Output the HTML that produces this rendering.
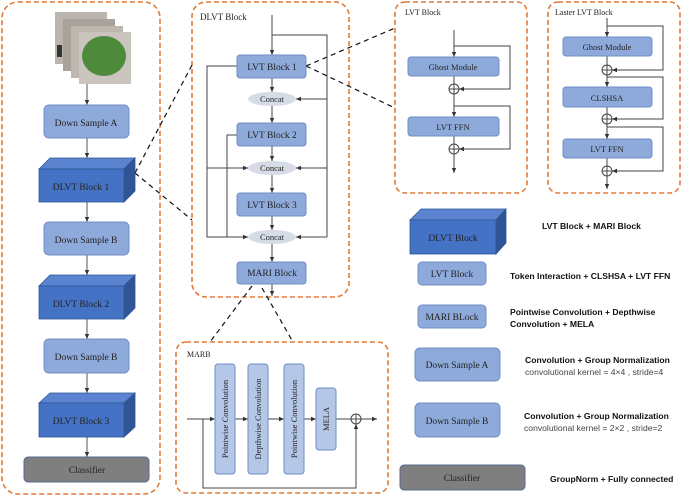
<!DOCTYPE html>
<html><head><meta charset="utf-8"><style>
html,body{margin:0;padding:0;background:#fff;}
svg{display:block;}
.s{font-family:"Liberation Serif",serif;font-size:9.5px;fill:#222;}
.b{font-family:"Liberation Sans",sans-serif;font-size:8.6px;font-weight:bold;fill:#111;}
.n{font-family:"Liberation Sans",sans-serif;font-size:8.6px;fill:#444;}
</style></head><body>
<svg width="685" height="498" viewBox="0 0 685 498" xmlns="http://www.w3.org/2000/svg">
<defs>
<marker id="a" markerWidth="6" markerHeight="6" refX="5" refY="3" orient="auto" markerUnits="userSpaceOnUse"><path d="M0,0.8 L5,3 L0,5.2z" fill="#333"/></marker>
</defs>
<g fill="none" stroke="#e07b39" stroke-width="1.6" stroke-dasharray="5,3">
<rect x="2" y="2" width="158" height="492" rx="16"/>
<rect x="192" y="2" width="157" height="295" rx="14"/>
<rect x="395" y="2" width="132" height="191" rx="10"/>
<rect x="548" y="2" width="132" height="191" rx="10"/>
<rect x="176" y="342" width="212" height="151" rx="10"/>
</g>
<g stroke="#111" stroke-width="1.2" stroke-dasharray="5,4" fill="none">
<path d="M135,173 L192,65 M135,173 L192,220"/>
<path d="M306,66 L395,28 M306,66 L395,108"/>
<path d="M252,286 L210,342 M262,288 L293,342"/>
</g>
<!-- images -->
<rect x="55" y="12" width="52" height="52" fill="#b9b4ae"/>
<rect x="63" y="19" width="52" height="52" fill="#a8a29b"/>
<rect x="71" y="26" width="52" height="52" fill="#bdb7b0"/>
<rect x="79" y="32" width="52" height="52" fill="#c9c4bd"/>
<ellipse cx="104" cy="56" rx="22" ry="20" fill="#4e8a3c"/>
<rect x="57" y="45" width="5" height="12" fill="#333"/>
<g stroke="#555" stroke-width="1" fill="none" marker-end="url(#a)">
<path d="M87,84 V105"/><path d="M87,138 V158"/><path d="M87,202 V222"/><path d="M87,255 V275"/><path d="M87,319 V339"/><path d="M87,373 V393"/><path d="M87,437 V457"/>
</g>
<g stroke="#6f8fc6" fill="#8eaadb">
<rect x="44" y="105" width="85" height="33" rx="5"/>
<rect x="44" y="222" width="85" height="33" rx="5"/>
<rect x="44" y="339" width="85" height="34" rx="5"/>
</g>
<text class="s" x="86" y="126" text-anchor="middle">Down Sample A</text>
<text class="s" x="86" y="243" text-anchor="middle">Down Sample B</text>
<text class="s" x="86" y="360" text-anchor="middle">Down Sample B</text>
<g stroke="#2f5597" stroke-width="0.8">
<g><polygon points="39,169 50,158 135,158 124,169" fill="#5b84d0"/><polygon points="124,169 135,158 135,191 124,202" fill="#2f5597"/><rect x="39" y="169" width="85" height="33" fill="#4472c4"/></g>
<g><polygon points="39,286 50,275 135,275 124,286" fill="#5b84d0"/><polygon points="124,286 135,275 135,308 124,319" fill="#2f5597"/><rect x="39" y="286" width="85" height="33" fill="#4472c4"/></g>
<g><polygon points="39,403 50,393 135,393 124,403" fill="#5b84d0"/><polygon points="124,403 135,393 135,427 124,437" fill="#2f5597"/><rect x="39" y="403" width="85" height="34" fill="#4472c4"/></g>
<g><polygon points="410,220 421,209 506,209 496,220" fill="#5b84d0"/><polygon points="496,220 506,209 506,243 496,254" fill="#2f5597"/><rect x="410" y="220" width="86" height="34" fill="#4472c4"/></g>
</g>
<text class="s" x="81" y="190" text-anchor="middle">DLVT Block 1</text>
<text class="s" x="81" y="307" text-anchor="middle">DLVT Block 2</text>
<text class="s" x="81" y="424" text-anchor="middle">DLVT Block 3</text>
<text class="s" x="453" y="241" text-anchor="middle">DLVT Block</text>
<rect x="24" y="457" width="125" height="25" rx="4" fill="#7f7f7f" stroke="#5a6a90"/>
<text class="s" x="87" y="473" text-anchor="middle">Classifier</text>

<!-- DLVT detail -->
<text class="s" x="200" y="20" style="font-size:9px">DLVT Block</text>
<g stroke="#444" stroke-width="1" fill="none">
<path d="M272,15 V55" marker-end="url(#a)"/>
<path d="M272,35 H327 V237"/>
<path d="M327,99 H296" marker-end="url(#a)"/>
<path d="M327,168 H296" marker-end="url(#a)"/>
<path d="M327,237 H296" marker-end="url(#a)"/>
<path d="M237,66 H207 V237 H248" marker-end="url(#a)"/>
<path d="M207,168 H248" marker-end="url(#a)"/>
<path d="M237,135 H227 V237"/>
<path d="M272,78 V92" marker-end="url(#a)"/>
<path d="M272,106 V123" marker-end="url(#a)"/>
<path d="M272,146 V161" marker-end="url(#a)"/>
<path d="M272,175 V193" marker-end="url(#a)"/>
<path d="M272,216 V230" marker-end="url(#a)"/>
<path d="M272,244 V262" marker-end="url(#a)"/>
<path d="M272,284 V296" marker-end="url(#a)"/>
</g>
<g stroke="#6f8fc6" fill="#8eaadb">
<rect x="237" y="55" width="69" height="23" rx="3"/>
<rect x="237" y="123" width="69" height="23" rx="3"/>
<rect x="237" y="193" width="69" height="23" rx="3"/>
<rect x="237" y="262" width="69" height="22" rx="3"/>
</g>
<g fill="#d6dce6"><ellipse cx="272" cy="99" rx="24" ry="7"/><ellipse cx="272" cy="168" rx="24" ry="7"/><ellipse cx="272" cy="237" rx="24" ry="7"/></g>
<text class="s" x="272" y="70" text-anchor="middle">LVT Block 1</text>
<text class="s" x="272" y="138" text-anchor="middle">LVT Block 2</text>
<text class="s" x="272" y="208" text-anchor="middle">LVT Block 3</text>
<text class="s" x="272" y="276" text-anchor="middle">MARI Block</text>
<g class="s" style="font-size:8.5px" text-anchor="middle"><text x="272" y="102">Concat</text><text x="272" y="171">Concat</text><text x="272" y="240">Concat</text></g>

<!-- LVT block -->
<text class="s" x="405" y="15" style="font-size:8px">LVT Block</text>
<g stroke="#444" stroke-width="1" fill="none">
<path d="M454,30 V57" marker-end="url(#a)"/>
<path d="M454,46 H510 V89 H459" marker-end="url(#a)"/>
<path d="M454,76 V84"/><path d="M454,94 V117" marker-end="url(#a)"/>
<path d="M454,106 H510 V149 H459" marker-end="url(#a)"/>
<path d="M454,136 V144"/><path d="M454,154 V173" marker-end="url(#a)"/>
<circle cx="454" cy="89" r="5"/><path d="M449,89 H459 M454,84 V94"/>
<circle cx="454" cy="149" r="5"/><path d="M449,149 H459 M454,144 V154"/>
</g>
<g stroke="#6f8fc6" fill="#8eaadb">
<rect x="408" y="57" width="91" height="19" rx="3"/>
<rect x="408" y="117" width="91" height="19" rx="3"/>
</g>
<text class="s" x="453" y="70" text-anchor="middle" style="font-size:8.5px">Ghost Module</text>
<text class="s" x="453" y="130" text-anchor="middle" style="font-size:8.5px">LVT FFN</text>

<!-- Laster LVT -->
<text class="s" x="555" y="15" style="font-size:8px">Laster LVT Block</text>
<g stroke="#444" stroke-width="1" fill="none">
<path d="M607,18 V37" marker-end="url(#a)"/>
<path d="M607,26 H663 V70 H612" marker-end="url(#a)"/>
<path d="M607,56 V65"/><path d="M607,75 V87" marker-end="url(#a)"/>
<path d="M607,77 H663 V119 H612" marker-end="url(#a)"/>
<path d="M607,107 V114"/><path d="M607,124 V139" marker-end="url(#a)"/>
<path d="M607,127 H663 V171 H612" marker-end="url(#a)"/>
<path d="M607,158 V166"/><path d="M607,176 V189" marker-end="url(#a)"/>
<circle cx="607" cy="70" r="5"/><path d="M602,70 H612 M607,65 V75"/>
<circle cx="607" cy="119" r="5"/><path d="M602,119 H612 M607,114 V124"/>
<circle cx="607" cy="171" r="5"/><path d="M602,171 H612 M607,166 V176"/>
</g>
<g stroke="#6f8fc6" fill="#8eaadb">
<rect x="563" y="37" width="89" height="19" rx="3"/>
<rect x="563" y="87" width="89" height="20" rx="3"/>
<rect x="563" y="139" width="89" height="19" rx="3"/>
</g>
<text class="s" x="607" y="50" text-anchor="middle" style="font-size:8.5px">Ghost Module</text>
<text class="s" x="607" y="101" text-anchor="middle" style="font-size:8.5px">CLSHSA</text>
<text class="s" x="607" y="152" text-anchor="middle" style="font-size:8.5px">LVT FFN</text>

<!-- MARB -->
<text class="s" x="187" y="357" style="font-size:8px">MARB</text>
<g stroke="#444" stroke-width="1" fill="none">
<path d="M187,419 H215" marker-end="url(#a)"/>
<path d="M235,419 H248" marker-end="url(#a)"/>
<path d="M268,419 H284" marker-end="url(#a)"/>
<path d="M304,419 H316" marker-end="url(#a)"/>
<path d="M336,419 H351"/>
<path d="M361,419 H377" marker-end="url(#a)"/>
<path d="M203,419 V488 H356 V424" marker-end="url(#a)"/>
<circle cx="356" cy="419" r="5"/><path d="M351,419 H361 M356,414 V424"/>
</g>
<g stroke="#6f8fc6" fill="#b4c7e7">
<rect x="215" y="364" width="20" height="110" rx="3"/>
<rect x="248" y="364" width="20" height="110" rx="3"/>
<rect x="284" y="364" width="20" height="110" rx="3"/>
<rect x="316" y="388" width="20" height="62" rx="3"/>
</g>
<g class="s" style="font-size:8.5px" text-anchor="middle">
<text transform="translate(228,419) rotate(-90)">Pointwise Convolution</text>
<text transform="translate(261,419) rotate(-90)">Depthwise Convolution</text>
<text transform="translate(297,419) rotate(-90)">Pointwise Convolution</text>
<text transform="translate(329,419) rotate(-90)">MELA</text>
</g>

<!-- legend -->
<text class="b" x="542" y="229">LVT  Block  + MARI Block</text>
<g stroke="#6f8fc6" fill="#8eaadb">
<rect x="418" y="262" width="68" height="23" rx="4"/>
<rect x="418" y="305" width="68" height="23" rx="4"/>
<rect x="415" y="348" width="85" height="33" rx="5"/>
<rect x="415" y="403" width="85" height="34" rx="5"/>
</g>
<text class="s" x="452" y="277" text-anchor="middle">LVT  Block</text>
<text class="s" x="452" y="320" text-anchor="middle">MARI BLock</text>
<text class="s" x="457" y="368" text-anchor="middle">Down Sample  A</text>
<text class="s" x="457" y="424" text-anchor="middle">Down Sample  B</text>
<rect x="400" y="465" width="125" height="25" rx="4" fill="#7f7f7f" stroke="#5a6a90"/>
<text class="s" x="462" y="481" text-anchor="middle">Classifier</text>
<text class="b" x="510" y="279">Token Interaction + CLSHSA + LVT FFN</text>
<text class="b" x="510" y="315">Pointwise Convolution + Depthwise</text>
<text class="b" x="510" y="327">Convolution + MELA</text>
<text class="b" x="525" y="363">Convolution + Group Normalization</text>
<text class="n" x="525" y="375">convolutional kernel = 4×4  , stride=4</text>
<text class="b" x="524" y="419">Convolution + Group Normalization</text>
<text class="n" x="524" y="431">convolutional kernel = 2×2  , stride=2</text>
<text class="b" x="550" y="482">GroupNorm + Fully connected</text>
</svg>
</body></html>
